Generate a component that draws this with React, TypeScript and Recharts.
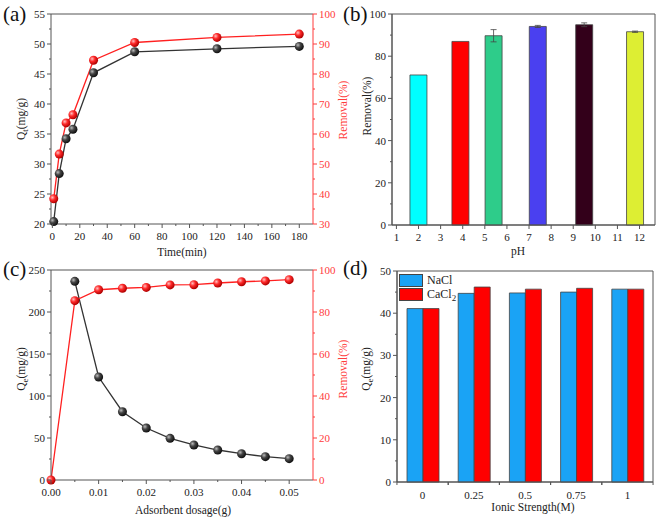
import React from "react";
import {
  Bar,
  BarChart,
  ComposedChart,
  ErrorBar,
  Cell,
  Legend,
  Line,
  LineChart,
  ReferenceArea,
  ReferenceLine,
  XAxis,
  YAxis,
} from "recharts";

const FONT = "'Liberation Serif', 'Times New Roman', serif";
const AXIS = "#555";
const RED = "#FF2020";
const RED_AXIS = "#FF3B3B";

// (a) contact time
const timeMin = [1, 5, 10, 15, 30, 60, 120, 180];
const qtValues = [20.4, 28.4, 34.2, 35.8, 45.2, 48.7, 49.2, 49.6];
const removalTime = [38.4, 53.3, 63.7, 66.4, 84.6, 90.5, 92.2, 93.3];

// (b) pH
const phValues = [2, 3.9, 5.4, 7.4, 9.5, 11.8];
const phRemoval = [71.1, 87.0, 89.7, 94.1, 94.9, 91.6];
const phError = [0, 0, 2.9, 0.5, 0.9, 0.3];
const phColors = ["#00FFFF", "#FF0000", "#2ECC8A", "#4A40F0", "#33001A", "#DDEE33"];

// (c) adsorbent dosage
const dosage = [0, 0.005, 0.01, 0.015, 0.02, 0.025, 0.03, 0.035, 0.04, 0.045, 0.05];
const qeDosage = [null, 236.5, 122.6, 81.3, 61.9, 49.6, 41.7, 35.7, 31.3, 27.8, 25.4];
const removalDosage = [0, 85.4, 90.6, 91.3, 91.7, 92.9, 93.0, 93.8, 94.4, 94.8, 95.4];

// (d) ionic strength
const ionicStrength = ["0", "0.25", "0.5", "0.75", "1"];
const qeNaCl = [41.1, 44.7, 44.8, 45.0, 45.7];
const qeCaCl2 = [41.1, 46.2, 45.7, 45.9, 45.7];
const saltNames = ["NaCl", "CaCl2"];

// tick labels
const ticksTimeX = [0, 20, 40, 60, 80, 100, 120, 140, 160, 180];
const ticksQt = [20, 25, 30, 35, 40, 45, 50, 55];
const ticksRemA = [30, 40, 50, 60, 70, 80, 90, 100];
const ticksPhX = [1, 2, 3, 4, 5, 6, 7, 8, 9, 10, 11, 12];
const ticksRemB = [0, 20, 40, 60, 80, 100];
const ticksDoseX = [0, 0.01, 0.02, 0.03, 0.04, 0.05];
const ticksQeC = [0, 50, 100, 150, 200, 250];
const ticksRemC = [0, 20, 40, 60, 80, 100];
const ticksQeD = [0, 10, 20, 30, 40, 50];

const kineticsData = timeMin.map((t, i) => ({ t, qt: qtValues[i], rem: removalTime[i] }));
const phData = phValues.map((ph, i) => ({ ph, rem: phRemoval[i], err: phError[i] }));
const dosageData = dosage.map((d, i) => ({ d, qe: qeDosage[i], rem: removalDosage[i] }));
const ionicData = ionicStrength.map((s, i) => ({ s, nacl: qeNaCl[i], cacl: qeCaCl2[i] }));

// majors plus the midpoints between them (minor ticks)
const withMinor = (majors: number[]) => {
  const out: number[] = [];
  majors.forEach((m, i) => {
    out.push(m);
    if (i < majors.length - 1) out.push(+((m + majors[i + 1]) / 2).toFixed(6));
  });
  return out;
};

const makeTick =
  (side: "bottom" | "left" | "right", majors: number[], color: string, fmt: (v: number) => string = String) =>
  (props: any) => {
    const { x, y, payload } = props;
    const v = payload.value;
    const major = majors.some((m) => Math.abs(m - v) < 1e-9);
    const len = major ? 4 : 2;
    if (side === "bottom") {
      return (
        <g>
          <line x1={x} y1={y} x2={x} y2={y + len} stroke={color} />
          {major && (
            <text x={x} y={y + 16} textAnchor="middle" fill="#222" fontSize={11} fontFamily={FONT}>
              {fmt(v)}
            </text>
          )}
        </g>
      );
    }
    const dir = side === "left" ? -1 : 1;
    return (
      <g>
        <line x1={x} y1={y} x2={x + dir * len} y2={y} stroke={color} />
        {major && (
          <text
            x={x + dir * 6}
            y={y + 4}
            textAnchor={side === "left" ? "end" : "start"}
            fill={side === "left" ? "#222" : color}
            fontSize={11}
            fontFamily={FONT}
          >
            {fmt(v)}
          </text>
        )}
      </g>
    );
  };

const Spheres = () => (
  <defs>
    <radialGradient id="gBlack" cx="35%" cy="35%" r="65%">
      <stop offset="0%" stopColor="#bbb" />
      <stop offset="45%" stopColor="#444" />
      <stop offset="100%" stopColor="#111" />
    </radialGradient>
    <radialGradient id="gRed" cx="35%" cy="35%" r="65%">
      <stop offset="0%" stopColor="#ffc0c0" />
      <stop offset="45%" stopColor="#ff2a2a" />
      <stop offset="100%" stopColor="#b00000" />
    </radialGradient>
  </defs>
);

const sphere = (grad: string) => (p: any) => {
  if (p.cx == null || p.cy == null || p.value == null) return <g key={p.key} />;
  return <circle key={p.key} cx={p.cx} cy={p.cy} r={4.5} fill={`url(#${grad})`} />;
};

const VTitle = ({ x, y, color = "#222", main, sub, rest }: any) => (
  <text transform={`rotate(-90 ${x} ${y})`} x={x} y={y} textAnchor="middle" fontFamily={FONT} fontSize={11.5} fill={color}>
    {main}
    {sub && (
      <tspan dy={3} fontSize={9}>
        {sub}
      </tspan>
    )}
    <tspan dy={sub ? -3 : 0}>{rest}</tspan>
  </text>
);

const HTitle = ({ x, y, text }: any) => (
  <text x={x} y={y} textAnchor="middle" fontFamily={FONT} fontSize={11.5} fill="#222">
    {text}
  </text>
);

const panelLabel = (text: string, left: number, top: number) => (
  <div style={{ position: "absolute", left, top, fontFamily: FONT, fontSize: 21, lineHeight: "21px", color: "#111" }}>
    {text}
  </div>
);

const LegendBox = (props: any) => {
  const items = [...(props.payload || [])].sort(
    (a: any, b: any) => saltNames.indexOf(a.value) - saltNames.indexOf(b.value)
  );
  return (
    <div style={{ fontFamily: FONT, fontSize: 12, lineHeight: "12px", color: "#222" }}>
      {items.map((it: any) => (
        <div key={it.value} style={{ display: "flex", alignItems: "center", height: 14, overflow: "visible" }}>
          <span style={{ display: "inline-block", width: 22, height: 11, background: it.color, border: "1px solid #444", marginRight: 4 }} />
          {it.value === "CaCl2" ? (
            <span style={{ lineHeight: "12px" }}>
              CaCl<span style={{ fontSize: 9, position: "relative", top: 3 }}>2</span>
            </span>
          ) : (
            <span>{it.value}</span>
          )}
        </div>
      ))}
    </div>
  );
};

const ionicTick = (props: any) => {
  const { x, y, payload } = props;
  const half = 51.3 / 2;
  return (
    <g>
      <line x1={x - half} y1={y} x2={x - half} y2={y + 3} stroke={AXIS} />
      <line x1={x + half} y1={y} x2={x + half} y2={y + 3} stroke={AXIS} />
      <text x={x} y={y + 17} textAnchor="middle" fill="#222" fontSize={11} fontFamily={FONT}>
        {payload.value}
      </text>
    </g>
  );
};

export default function App() {
  return (
    <div style={{ position: "absolute", left: 0, top: 0, width: 661, height: 518, background: "#fff", overflow: "hidden" }}>
      {/* (a) */}
      <div style={{ position: "absolute", left: 0, top: 0 }}>
        <LineChart width={360} height={259} data={kineticsData} margin={{ top: 14, right: 17, bottom: 5, left: 11 }}>
          <Spheres />
          <XAxis dataKey="t" type="number" domain={[-1, 190]} ticks={withMinor(ticksTimeX)} interval={0}
            tick={makeTick("bottom", ticksTimeX, AXIS)} tickLine={false} tickSize={0} tickMargin={0} height={30} axisLine={{ stroke: AXIS }} />
          <YAxis yAxisId="l" domain={[20, 55]} ticks={withMinor(ticksQt)} interval={0}
            tick={makeTick("left", ticksQt, AXIS)} tickLine={false} tickSize={0} tickMargin={0} width={40} axisLine={{ stroke: AXIS }} />
          <YAxis yAxisId="r" orientation="right" domain={[30, 100]} ticks={withMinor(ticksRemA)} interval={0}
            tick={makeTick("right", ticksRemA, RED_AXIS)} tickLine={false} tickSize={0} tickMargin={0} width={30} axisLine={{ stroke: RED_AXIS }} />
          <ReferenceLine yAxisId="l" y={55} stroke={AXIS} />
          <Line yAxisId="l" dataKey="qt" stroke="#333" strokeWidth={1.3} dot={sphere("gBlack")} isAnimationActive={false} />
          <Line yAxisId="r" dataKey="rem" stroke={RED} strokeWidth={1.3} dot={sphere("gRed")} isAnimationActive={false} />
          <VTitle x={25} y={119} main="Q" sub="t" rest="(mg/g)" />
          <VTitle x={347} y={110} color={RED_AXIS} main="Removal(%)" />
          <HTitle x={182} y={256} text="Time(min)" />
        </LineChart>
      </div>

      {/* (b) */}
      <div style={{ position: "absolute", left: 330, top: 0 }}>
        <ComposedChart width={331} height={259} data={phData} margin={{ top: 14, right: 6, bottom: 4, left: 22 }}>
          <XAxis dataKey="ph" type="number" domain={[0.8, 12.7]} ticks={ticksPhX} interval={0} allowDataOverflow
            tick={makeTick("bottom", ticksPhX, AXIS)} tickLine={false} tickSize={0} tickMargin={0} height={30} axisLine={{ stroke: AXIS }} />
          <YAxis domain={[0, 100]} ticks={withMinor(ticksRemB)} interval={0}
            tick={makeTick("left", ticksRemB, AXIS)} tickLine={false} tickSize={0} tickMargin={0} width={40} axisLine={{ stroke: AXIS }} />
          <ReferenceArea x1={0.8} x2={12.7} y1={0} y2={100} fill="none" stroke={AXIS} ifOverflow="visible" />
          <Bar dataKey="rem" barSize={17} stroke="#444" strokeWidth={0.8} isAnimationActive={false}>
            {phData.map((_, i) => (
              <Cell key={`ph-${i}`} fill={phColors[i]} />
            ))}
            <ErrorBar dataKey="err" width={3} stroke="#444" strokeWidth={0.8} />
          </Bar>
          <VTitle x={41} y={106} main="Removal(%)" />
          <HTitle x={188} y={255} text="pH" />
        </ComposedChart>
      </div>

      {/* (c) */}
      <div style={{ position: "absolute", left: 0, top: 259 }}>
        <LineChart width={360} height={259} data={dosageData} margin={{ top: 11, right: 17, bottom: 8, left: 11 }}>
          <Spheres />
          <XAxis dataKey="d" type="number" domain={[0, 0.055]} ticks={withMinor(ticksDoseX)} interval={0}
            tick={makeTick("bottom", ticksDoseX, AXIS, (v) => v.toFixed(2))} tickLine={false} tickSize={0} tickMargin={0} height={30} axisLine={{ stroke: AXIS }} />
          <YAxis yAxisId="l" domain={[0, 250]} ticks={withMinor(ticksQeC)} interval={0}
            tick={makeTick("left", ticksQeC, AXIS)} tickLine={false} tickSize={0} tickMargin={0} width={40} axisLine={{ stroke: AXIS }} />
          <YAxis yAxisId="r" orientation="right" domain={[0, 100]} ticks={withMinor(ticksRemC)} interval={0}
            tick={makeTick("right", ticksRemC, RED_AXIS)} tickLine={false} tickSize={0} tickMargin={0} width={30} axisLine={{ stroke: RED_AXIS }} />
          <ReferenceLine yAxisId="l" y={250} stroke={AXIS} />
          <Line yAxisId="l" dataKey="qe" stroke="#333" strokeWidth={1.3} dot={sphere("gBlack")} isAnimationActive={false} />
          <Line yAxisId="r" dataKey="rem" stroke={RED} strokeWidth={1.3} dot={sphere("gRed")} isAnimationActive={false} />
          <VTitle x={25} y={110} main="Q" sub="e" rest="(mg/g)" />
          <VTitle x={347} y={110} color={RED_AXIS} main="Removal(%)" />
          <HTitle x={183} y={255} text="Adsorbent dosage(g)" />
        </LineChart>
      </div>

      {/* (d) */}
      <div style={{ position: "absolute", left: 330, top: 259 }}>
        <BarChart width={331} height={259} data={ionicData} margin={{ top: 12, right: 8, bottom: 6, left: 27 }} barGap={0}>
          <XAxis dataKey="s" interval={0} tick={ionicTick} tickLine={false} tickSize={0} tickMargin={0} height={30} axisLine={{ stroke: AXIS }} />
          <YAxis domain={[0, 50]} ticks={withMinor(ticksQeD)} interval={0}
            tick={makeTick("left", ticksQeD, AXIS)} tickLine={false} tickSize={0} tickMargin={0} width={40} axisLine={{ stroke: AXIS }} />
          <ReferenceArea y1={0} y2={50} fill="none" stroke={AXIS} ifOverflow="visible" />
          <Bar dataKey="nacl" name={saltNames[0]} fill="#1AA3F5" stroke="#444" strokeWidth={0.8} barSize={16} isAnimationActive={false} />
          <Bar dataKey="cacl" name={saltNames[1]} fill="#FF0000" stroke="#444" strokeWidth={0.8} barSize={16} isAnimationActive={false} />
          <Legend layout="horizontal" verticalAlign="middle" align="center" content={LegendBox}
            wrapperStyle={{ left: 69, top: 14, width: "auto", height: "auto" }} />
          <VTitle x={40} y={110} main="Q" sub="e" rest="(mg/g)" />
          <HTitle x={203} y={252} text="Ionic Strength(M)" />
        </BarChart>
      </div>

      {panelLabel("(a)", 3, 4)}
      {panelLabel("(b)", 343, 4)}
      {panelLabel("(c)", 3, 259)}
      {panelLabel("(d)", 343, 258)}
    </div>
  );
}
